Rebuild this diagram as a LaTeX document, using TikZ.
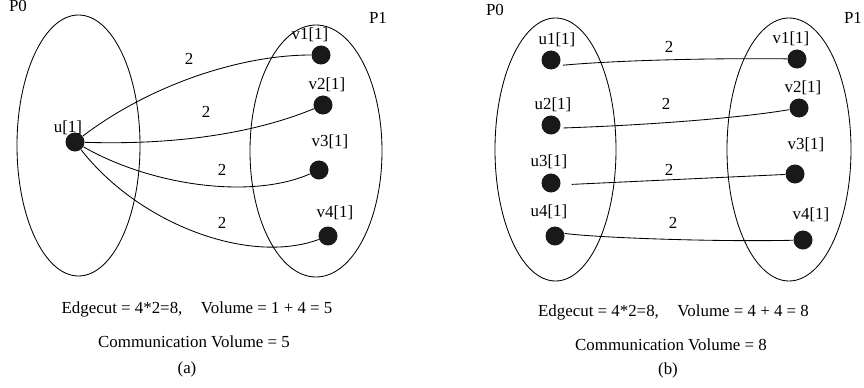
\documentclass[tikz,border=0pt]{standalone}
\usepackage{fontspec}
\setmainfont{Liberation Serif}
\usepackage{tikz}
\tikzset{vertex/.style = {circle, fill=black!90, inner sep=0pt, minimum size=0.475cm},
  lbl/.style = {inner sep=0pt, font=\fontsize{12}{14}\selectfont}}

\begin{document}
\begin{tikzpicture}[x=0.025cm, y=-0.025cm, line width=.6pt]
      \useasboundingbox (0,0) rectangle (864,388);
      % (a)
      \draw (78.5,145.5) ellipse [x radius=61.5, y radius=130.5];
      \draw (316,151) ellipse [x radius=66, y radius=126];
      \node[lbl] (pa0) at (18,6) {P0};
      \node[lbl] (pa1) at (378,18) {P1};
      \node[vertex] (u) at (75,142) {};
      \node[lbl] at (68,128) {u[1]};
      \node[vertex] (av1) at (321,55) {};
      \node[vertex] (av2) at (323,105) {};
      \node[vertex] (av3) at (319,170) {};
      \node[vertex] (av4) at (328,236) {};
      \node[lbl] at (310,35) {v1[1]};
      \node[lbl] at (327,85) {v2[1]};
      \node[lbl] at (330,142) {v3[1]};
      \node[lbl] at (335,213) {v4[1]};
      \draw (u) .. controls (150,85) and (240,55) .. (av1);
      \draw (u) .. controls (170,145) and (250,135) .. (av2);
      \draw (u) .. controls (150,185) and (250,200) .. (av3);
      \draw (u) .. controls (140,225) and (250,265) .. (av4);
      \node[lbl] at (189,59) {2};
      \node[lbl] at (206,112) {2};
      \node[lbl] at (222,170) {2};
      \node[lbl] at (222,223) {2};
      \node[lbl] (cuta) at (197,309) {Edgecut = 4*2=8,\hspace{1.1em}Volume = 1 + 4 = 5};
      \node[lbl] (coma) at (194,342) {Communication Volume = 5};
      \node[lbl] (capa) at (187,369) {(a)};
      % (b)
      \draw (555.5,149.5) ellipse [x radius=60.5, y radius=131.5];
      \draw (789,149.5) ellipse [x radius=62, y radius=131.5];
      \node[lbl] (pb0) at (495,10) {P0};
      \node[lbl] (pb1) at (853,18) {P1};
      \node[vertex] (u1) at (551,60) {};
      \node[vertex] (u2) at (551,125) {};
      \node[vertex] (u3) at (551,183) {};
      \node[vertex] (u4) at (555,236) {};
      \node[lbl] at (557,40) {u1[1]};
      \node[lbl] at (553,105) {u2[1]};
      \node[lbl] at (549,162) {u3[1]};
      \node[lbl] at (549,212) {u4[1]};
      \node[vertex] (bv1) at (797,59) {};
      \node[vertex] (bv2) at (799,108) {};
      \node[vertex] (bv3) at (795,174) {};
      \node[vertex] (bv4) at (803,240) {};
      \node[lbl] at (791,39) {v1[1]};
      \node[lbl] at (803,88) {v2[1]};
      \node[lbl] at (806,145) {v3[1]};
      \node[lbl] at (811,215) {v4[1]};
      \draw[shorten <=0.1cm] (u1.-34) .. controls (620,60) and (720,58) .. (bv1);
      \draw[shorten <=0.075cm] (u2.-18) .. controls (650,125) and (740,118) .. (bv2);
      \draw[shorten <=0.275cm] (u3.-11) -- (bv3);
      \draw (u4.15) .. controls (600,238) and (720,242) .. (bv4);
      \node[lbl] at (669,47) {2};
      \node[lbl] at (666,104) {2};
      \node[lbl] at (669,170) {2};
      \node[lbl] at (673,223) {2};
      \node[lbl] (cutb) at (673.5,312) {Edgecut = 4*2=8,\hspace{1.1em}Volume = 4 + 4 = 8};
      \node[lbl] (comb) at (671,345) {Communication Volume = 8};
      \node[lbl] (capb) at (668,370) {(b)};
    \end{tikzpicture}
\end{document}
